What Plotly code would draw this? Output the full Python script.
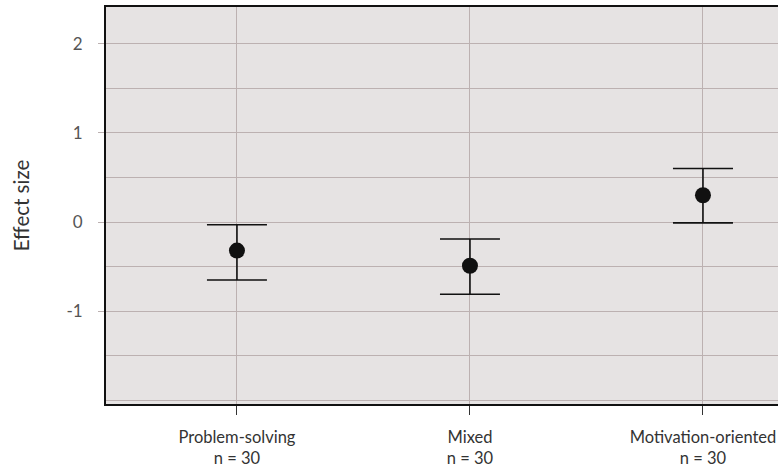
import plotly.graph_objects as go

categories = ["Problem-solving", "Mixed", "Motivation-oriented"]
n_labels = ["n = 30", "n = 30", "n = 30"]
means = [-0.32, -0.49, 0.30]
upper = [-0.03, -0.19, 0.60]
lower = [-0.65, -0.81, -0.01]
ytick_vals = [-1, 0, 1, 2]
ytick_text = ["-1", "0", "1", "2"]

xpos = list(range(len(categories)))
err_plus = [u - m for u, m in zip(upper, means)]
err_minus = [m - l for m, l in zip(means, lower)]

grid = "#bcb1b1"
bg = "#e6e3e3"

fig = go.Figure()
fig.add_trace(go.Scatter(
    x=xpos, y=means, mode="markers",
    marker=dict(size=16, color="#111111"),
    error_y=dict(type="data", symmetric=False, array=err_plus, arrayminus=err_minus,
                 width=30, thickness=1.6, color="#111111"),
    showlegend=False,
))

fig.update_layout(
    width=778, height=471,
    margin=dict(l=106, r=0, t=7, b=67, autoexpand=False),
    paper_bgcolor="white", plot_bgcolor=bg,
    font=dict(family="Lato, sans-serif", size=16, color="#333333"),
    xaxis=dict(
        range=[-0.562, 2.322], tickvals=xpos,
        ticktext=[f"{c}<br>{n}" for c, n in zip(categories, n_labels)],
        showgrid=True, gridcolor=grid, gridwidth=1.2,
        showline=True, linecolor="#111111", linewidth=2, mirror=True,
        ticks="outside", ticklen=9, tickcolor="#333333",
        ticklabelstandoff=8,
        tickfont=dict(size=16.5, color="#333333"), zeroline=False,
        automargin=False,
    ),
    yaxis=dict(
        range=[-2.04, 2.41], tickvals=ytick_vals, ticktext=ytick_text,
        showgrid=True, gridcolor=grid, gridwidth=1.2,
        minor=dict(dtick=0.5, tick0=0, showgrid=True, gridcolor=grid, gridwidth=1),
        showline=True, linecolor="#111111", linewidth=2,
        ticks="outside", ticklen=6, tickcolor=grid,
        ticklabelstandoff=12,
        tickfont=dict(size=17, color="#555555"), zeroline=False,
        automargin=False,
        title=dict(text="Effect size", font=dict(size=20.5, color="#333333"), standoff=31),
    ),
)

fig.write_html("out.html", config={"displayModeBar": False},
               post_script="document.body.style.margin='0';")
